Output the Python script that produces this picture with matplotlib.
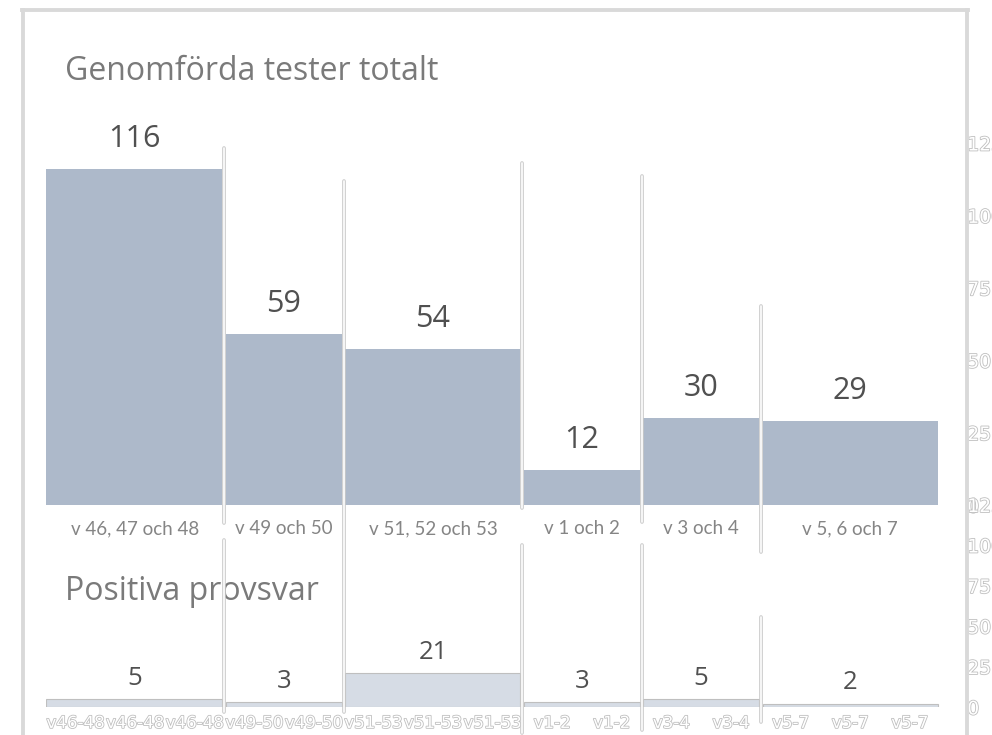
import matplotlib
matplotlib.use("Agg")
import matplotlib.pyplot as plt
import matplotlib.patheffects as pe
import matplotlib.transforms as mtransforms
from matplotlib.lines import Line2D
import numpy as np

# data
categories = ['v 46, 47 och 48', 'v 49 och 50', 'v 51, 52 och 53',
              'v 1 och 2', 'v 3 och 4', 'v 5, 6 och 7']
short_labels = ['v46-48', 'v49-50', 'v51-53', 'v1-2', 'v3-4', 'v5-7']
weeks = [3, 2, 3, 2, 2, 3]
tests = [116, 59, 54, 12, 30, 29]
positives = [5, 3, 21, 3, 5, 2]
yticks = [0, 25, 50, 75, 100, 125]

W_PX, H_PX = 992, 735
fig = plt.figure(figsize=(W_PX / 100, H_PX / 100), dpi=100)
fig.patch.set_facecolor('white')

def fy(y):
    # pixel row -> figure fraction
    return 1 - y / H_PX

num_font = 'Open Sans'
lab_font = 'Lato'

weeks_arr = np.array(weeks)
lefts = np.concatenate([[0], np.cumsum(weeks_arr)[:-1]])
gap = 0.067
starts = lefts + gap / 2
starts[0] = 0  # first group sits flush on the left edge
widths = lefts + weeks_arr - gap / 2 - starts
centers = lefts + weeks_arr / 2
week_centers = np.arange(weeks_arr.sum()) + 0.5
week_labels = [s for s, w in zip(short_labels, weeks) for _ in range(w)]

outline = [pe.withStroke(linewidth=1.2, foreground='#BFBFBF')]

ax_top = fig.add_axes([45.5 / W_PX, fy(505), 894 / W_PX, 362 / H_PX])
ax_bot = fig.add_axes([45.5 / W_PX, fy(707), 894 / W_PX, 202.5 / H_PX])

for ax, vals, color, edge, lab_off, fs in [
        (ax_top, tests, '#ADB9CA', 'none', 21.5, 22),
        (ax_bot, positives, '#D6DCE5', '#BFBFBF', 15, 18.5)]:
    ax.bar(starts, vals, width=widths, align='edge',
           color=color, edgecolor=edge, linewidth=0.8)
    for c, v in zip(centers, vals):
        ax.annotate(str(v), (c, v), xytext=(0, lab_off), textcoords='offset points',
                    ha='center', va='center', fontsize=fs, color='#505050',
                    family=num_font)
    ax.set_xlim(0, weeks_arr.sum())
    ax.set_ylim(0, 125)
    for s in ax.spines.values():
        s.set_visible(False)
    ax.yaxis.tick_right()
    ax.set_yticks(yticks)
    ax.set_yticklabels([str(t) for t in yticks], color='white', fontsize=13.5)
    for t in ax.get_yticklabels():
        t.set_path_effects(outline)
    ax.tick_params(axis='y', length=0, pad=20)
    ax.patch.set_alpha(0)

ax_top.set_xticks(centers)
ax_top.set_xticklabels(categories, fontsize=13.5, color='#858585', family=lab_font)
ax_top.tick_params(axis='x', length=0, pad=11)

ax_bot.set_xticks(week_centers)
ax_bot.set_xticklabels(week_labels, fontsize=12, color='white')
for t in ax_bot.get_xticklabels():
    t.set_path_effects(outline)
ax_bot.tick_params(axis='x', length=0, pad=5)

# titles
fig.text(65 / W_PX, fy(72), 'Genomförda tester totalt', fontsize=23, color='#7A7A7A',
         family=num_font, va='center', ha='left')
fig.text(65 / W_PX, fy(592), 'Positiva provsvar', fontsize=23, color='#7A7A7A',
         family=num_font, va='center', ha='left')

# outer frame
frame_kw = dict(color='#D9D9D9', linewidth=2.8, transform=fig.transFigure)
fig.add_artist(Line2D([23 / W_PX, 23 / W_PX], [fy(10), 0], **frame_kw))
fig.add_artist(Line2D([21.6 / W_PX, 968.4 / W_PX], [fy(10), fy(10)], **frame_kw))
fig.add_artist(Line2D([967 / W_PX, 967 / W_PX], [fy(10), 0], **frame_kw))

# white separators between the week groups
bounds = np.cumsum(weeks_arr)
sep_segments = [(0, 148, 523), (0, 540, 712), (1, 181, 712),
                (2, 163, 508), (2, 545, 733), (3, 176, 522), (3, 545, 730),
                (4, 306, 552), (4, 617, 722)]
blend = mtransforms.blended_transform_factory(ax_top.transData, fig.transFigure)
for i, y0, y1 in sep_segments:
    xb = bounds[i]
    ln = Line2D([xb, xb], [fy(y0), fy(y1)], transform=blend, color='white',
                linewidth=1.2, solid_capstyle='round', zorder=10,
                path_effects=[pe.Stroke(linewidth=2.6, foreground='#C8C8C8'), pe.Normal()])
    fig.add_artist(ln)

fig.savefig('out.png', dpi=100)
